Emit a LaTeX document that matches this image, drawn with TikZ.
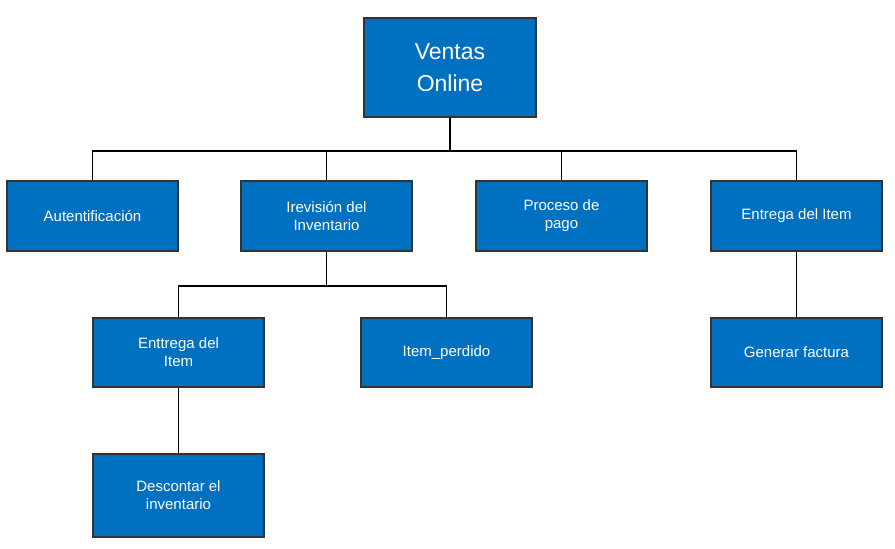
\documentclass[tikz,border=0pt]{standalone}
\usepackage{fontspec}
\setmainfont{Liberation Sans}
\begin{document}
\begin{tikzpicture}[x=1pt,y=-1pt,
  box/.style={draw=black!80, line width=1.2pt, fill={rgb,255:red,0;green,112;blue,192}, text=white, align=center, font=\fontsize{15}{18}\selectfont, inner sep=0pt},
  conn/.style={draw=black, line width=1.2pt}]
\useasboundingbox (0,0) rectangle (895,549);
\node[box, minimum width=172pt, minimum height=99pt, font=\fontsize{23}{32}\selectfont] (root) at (450,67.5) {Ventas\\Online};
\node[box, minimum width=171pt, minimum height=70pt] (aut) at (92.5,216) {Autentificación};
\node[box, minimum width=171pt, minimum height=70pt] (irev) at (326.5,216) {Irevisión del\\Inventario};
\node[box, minimum width=171pt, minimum height=70pt] (pago) at (561.5,216) {Proceso de\\pago};
\node[box, minimum width=171pt, minimum height=70pt] (ent) at (796.5,216) {Entrega del Item};
\node[box, minimum width=171pt, minimum height=69pt] (entt) at (178.5,352.5) {Enttrega del\\Item};
\node[box, minimum width=171pt, minimum height=69pt] (perd) at (446.5,352.5) {Item\_perdido};
\node[box, minimum width=171pt, minimum height=69pt] (fact) at (796.5,352.5) {Generar factura};
\node[box, minimum width=171pt, minimum height=83pt] (desc) at (178.5,495.5) {Descontar el\\inventario};
\coordinate (j1) at (450,151);
\coordinate (j2) at (326.5,286);
\draw[conn] (root.south) -- (j1);
\draw[conn] (j1) -| (aut.north);
\draw[conn] (j1) -| (irev.north);
\draw[conn] (j1) -| (pago.north);
\draw[conn] (j1) -| (ent.north);
\draw[conn] (irev.south) -- (j2);
\draw[conn] (j2) -| (entt.north);
\draw[conn] (j2) -| (perd.north);
\draw[conn] (entt.south) -- (desc.north);
\draw[conn] (ent.south) -- (fact.north);
\end{tikzpicture}
\end{document}
